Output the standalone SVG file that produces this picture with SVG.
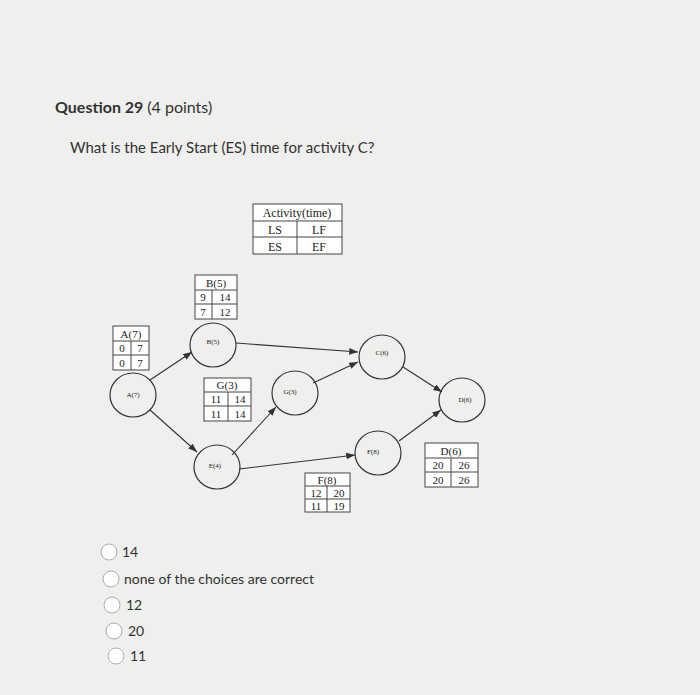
<svg xmlns="http://www.w3.org/2000/svg" width="700" height="695" viewBox="0 0 700 695">
<style>
.n{fill:none;stroke:#333;stroke-width:1.2}
.t{font-family:"Liberation Serif",serif;fill:#222}
.s{font-size:7px}
.tb{fill:#fff;stroke:#444;stroke-width:1}
.c{stroke:#333;stroke-width:1.1;fill:none;marker-end:url(#a)}
.q{font-family:Lato,"Liberation Sans",sans-serif;fill:#333}
.r{fill:#fff;stroke:#aaa;stroke-width:1}
</style>
<defs><marker id="a" markerWidth="8" markerHeight="6" refX="8" refY="3" orient="auto"><path d="M0,0L8,3L0,6z" fill="#333"/></marker></defs>
<rect width="700" height="695" fill="#efefed"/>
<text class="q" x="55" y="113" font-size="16" font-weight="bold">Question 29 <tspan font-weight="normal">(4 points)</tspan></text>
<text class="q" x="70" y="153" font-size="15">What is the Early Start (ES) time for activity C?</text>
<g id="legend"><rect class="tb" x="253" y="204" width="89" height="50"/><path d="M253,221H342M253,237H342M297,221V254" stroke="#444"/>
<text class="t" x="297" y="217" font-size="12" text-anchor="middle">Activity(time)</text>
<text class="t" x="275" y="234" font-size="12" text-anchor="middle">LS</text><text class="t" x="319" y="234" font-size="12" text-anchor="middle">LF</text>
<text class="t" x="275" y="251" font-size="12" text-anchor="middle">ES</text><text class="t" x="319" y="251" font-size="12" text-anchor="middle">EF</text></g>
<g id="connectors">
<line class="c" x1="150" y1="380" x2="192" y2="352"/>
<line class="c" x1="150" y1="410" x2="197" y2="452"/>
<line class="c" x1="236" y1="343" x2="358" y2="352"/>
<line class="c" x1="232" y1="455" x2="276" y2="407"/>
<line class="c" x1="313" y1="383" x2="358" y2="362"/>
<line class="c" x1="239" y1="469" x2="355" y2="455"/>
<line class="c" x1="403" y1="367" x2="442" y2="392"/>
<line class="c" x1="399" y1="441" x2="441" y2="410"/>
</g>
<g id="A"><ellipse class="n" cx="133" cy="395" rx="23" ry="22"/><text class="t s" x="133" y="397" text-anchor="middle">A(7)</text>
<rect class="tb" x="113" y="326" width="36" height="44"/><path d="M113,341H149M113,355H149M131,341V370" stroke="#444"/>
<text class="t" x="131" y="338" font-size="11" text-anchor="middle">A(7)</text><text class="t" x="122" y="352" font-size="11" text-anchor="middle">0</text><text class="t" x="140" y="352" font-size="11" text-anchor="middle">7</text><text class="t" x="122" y="367" font-size="11" text-anchor="middle">0</text><text class="t" x="140" y="367" font-size="11" text-anchor="middle">7</text></g>
<g id="B"><ellipse class="n" cx="213" cy="345" rx="23" ry="22"/><text class="t s" x="213" y="344" text-anchor="middle">B(5)</text>
<rect class="tb" x="195" y="275" width="42" height="44"/><path d="M195,290H237M195,304H237M212,290V319" stroke="#444"/>
<text class="t" x="216" y="287" font-size="11" text-anchor="middle">B(5)</text><text class="t" x="203" y="301" font-size="11" text-anchor="middle">9</text><text class="t" x="225" y="301" font-size="11" text-anchor="middle">14</text><text class="t" x="203" y="316" font-size="11" text-anchor="middle">7</text><text class="t" x="225" y="316" font-size="11" text-anchor="middle">12</text></g>
<g id="C"><ellipse class="n" cx="382" cy="357" rx="23" ry="22"/><text class="t s" x="382" y="355" text-anchor="middle">C(6)</text></g>
<g id="G"><ellipse class="n" cx="295" cy="393" rx="23" ry="22"/><text class="t s" x="290" y="394" text-anchor="middle">G(3)</text>
<rect class="tb" x="204" y="378" width="47" height="43"/><path d="M204,392H251M204,406H251M228,392V421" stroke="#444"/>
<text class="t" x="227" y="389" font-size="11" text-anchor="middle">G(3)</text><text class="t" x="216" y="403" font-size="11" text-anchor="middle">11</text><text class="t" x="240" y="403" font-size="11" text-anchor="middle">14</text><text class="t" x="216" y="418" font-size="11" text-anchor="middle">11</text><text class="t" x="240" y="418" font-size="11" text-anchor="middle">14</text></g>
<g id="D"><ellipse class="n" cx="462" cy="400" rx="23" ry="22"/><text class="t s" x="465" y="402" text-anchor="middle">D(6)</text>
<rect class="tb" x="425" y="443" width="53" height="44"/><path d="M425,458H478M425,472H478M451,458V487" stroke="#444"/>
<text class="t" x="451" y="455" font-size="11" text-anchor="middle">D(6)</text><text class="t" x="438" y="469" font-size="11" text-anchor="middle">20</text><text class="t" x="464" y="469" font-size="11" text-anchor="middle">26</text><text class="t" x="438" y="484" font-size="11" text-anchor="middle">20</text><text class="t" x="464" y="484" font-size="11" text-anchor="middle">26</text></g>
<g id="E"><ellipse class="n" cx="217" cy="467" rx="23" ry="22"/><text class="t s" x="215" y="468" text-anchor="middle">E(4)</text></g>
<g id="F"><ellipse class="n" cx="378" cy="453" rx="23" ry="22"/><text class="t s" x="373" y="454" text-anchor="middle">F(8)</text>
<rect class="tb" x="305" y="473" width="45" height="39"/><path d="M305,486H350M305,499H350M327,486V512" stroke="#444"/>
<text class="t" x="327" y="484" font-size="11" text-anchor="middle">F(8)</text><text class="t" x="316" y="497" font-size="11" text-anchor="middle">12</text><text class="t" x="339" y="497" font-size="11" text-anchor="middle">20</text><text class="t" x="316" y="510" font-size="11" text-anchor="middle">11</text><text class="t" x="339" y="510" font-size="11" text-anchor="middle">19</text></g>
<g id="options">
<circle class="r" cx="109" cy="552" r="8"/><text class="q" x="122" y="557" font-size="14">14</text>
<circle class="r" cx="111" cy="579" r="8"/><text class="q" x="124" y="584" font-size="14">none of the choices are correct</text>
<circle class="r" cx="112" cy="605" r="8"/><text class="q" x="126" y="610" font-size="14">12</text>
<circle class="r" cx="114" cy="631" r="8"/><text class="q" x="128" y="636" font-size="14">20</text>
<circle class="r" cx="116" cy="656" r="8"/><text class="q" x="130" y="661" font-size="14">11</text>
</g>
</svg>
